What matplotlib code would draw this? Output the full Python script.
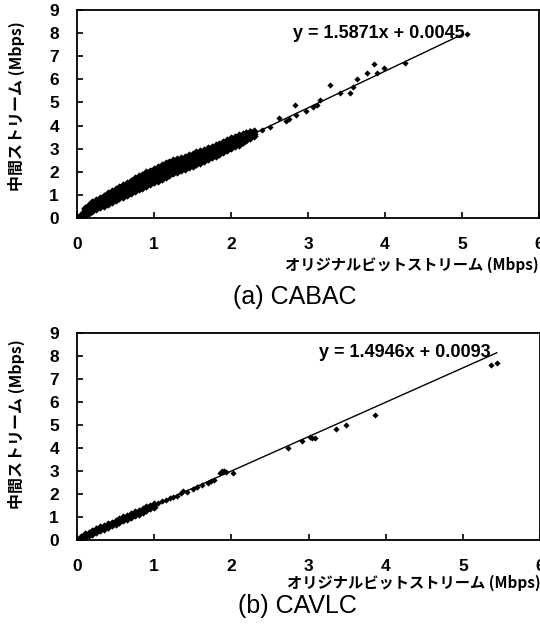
import matplotlib
matplotlib.use("Agg")
import matplotlib.pyplot as plt

plt.rcParams["font.family"] = ["Liberation Sans", "DejaVu Sans"]
JP = ["Noto Sans CJK JP", "DejaVu Sans"]

# (a) CABAC -- dense band, rows of points
cabac_x_lo = [0.05, 0.10, 0.15, 0.20, 0.25, 0.30, 0.35, 0.40, 0.45, 0.50, 0.55, 0.60,
              0.65, 0.70, 0.75, 0.80, 0.85, 0.90, 0.95, 1.00, 1.05, 1.10, 1.15, 1.20,
              1.25, 1.30, 1.35, 1.40, 1.45, 1.50, 1.55, 1.60, 1.65, 1.70, 1.75, 1.80,
              1.85, 1.90, 1.95, 2.00, 2.05, 2.10, 2.15, 2.20, 2.25, 2.30]
cabac_y_lo = [0.08, 0.15, 0.23, 0.31, 0.39, 0.46, 0.54, 0.62, 0.70, 0.77, 0.85, 0.93,
              1.00, 1.08, 1.16, 1.24, 1.31, 1.39, 1.47, 1.55, 1.62, 1.70, 1.78, 1.85,
              1.93, 2.00, 2.06, 2.12, 2.19, 2.26, 2.33, 2.40, 2.47, 2.55, 2.62, 2.70,
              2.78, 2.86, 2.94, 3.02, 3.10, 3.18, 3.27, 3.36, 3.44, 3.53]
cabac_y_lm = [0.11, 0.20, 0.29, 0.38, 0.47, 0.55, 0.63, 0.72, 0.80, 0.88, 0.96, 1.04,
              1.12, 1.20, 1.28, 1.36, 1.44, 1.52, 1.60, 1.68, 1.76, 1.84, 1.92, 1.99,
              2.07, 2.15, 2.22, 2.28, 2.35, 2.42, 2.50, 2.57, 2.64, 2.72, 2.80, 2.87,
              2.95, 3.03, 3.11, 3.19, 3.27, 3.34, 3.42, 3.50, 3.58, 3.65]
cabac_y_mid = [0.15, 0.26, 0.36, 0.46, 0.55, 0.64, 0.72, 0.82, 0.90, 0.99, 1.08, 1.16,
               1.24, 1.33, 1.41, 1.49, 1.57, 1.66, 1.74, 1.82, 1.90, 1.98, 2.06, 2.13,
               2.22, 2.30, 2.37, 2.44, 2.52, 2.59, 2.67, 2.74, 2.82, 2.90, 2.97, 3.05,
               3.12, 3.20, 3.28, 3.36, 3.43, 3.50, 3.58, 3.65, 3.72, 3.78]
cabac_x_hi = [0.10, 0.15, 0.20, 0.25, 0.30, 0.35, 0.40, 0.45, 0.50, 0.55, 0.60, 0.65,
              0.70, 0.75, 0.80, 0.85, 0.90, 0.95, 1.00, 1.05, 1.10, 1.15, 1.20, 1.25,
              1.30, 1.35, 1.40, 1.45, 1.50, 1.55, 1.60, 1.65, 1.70, 1.75, 1.80, 1.85,
              1.90, 1.95, 2.00, 2.05, 2.10, 2.15, 2.20, 2.25]
cabac_y_mh = [0.34, 0.45, 0.57, 0.66, 0.76, 0.84, 0.94, 1.03, 1.12, 1.21, 1.30, 1.38,
              1.47, 1.56, 1.64, 1.72, 1.81, 1.89, 1.97, 2.05, 2.13, 2.21, 2.28, 2.36,
              2.42, 2.48, 2.55, 2.62, 2.68, 2.75, 2.82, 2.89, 2.96, 3.03, 3.10, 3.16,
              3.25, 3.32, 3.42, 3.47, 3.54, 3.60, 3.66, 3.70]
cabac_y_hi = [0.42, 0.55, 0.68, 0.78, 0.88, 0.97, 1.07, 1.16, 1.26, 1.35, 1.44, 1.53,
              1.62, 1.71, 1.80, 1.88, 1.97, 2.05, 2.13, 2.20, 2.28, 2.36, 2.42, 2.50,
              2.55, 2.60, 2.66, 2.72, 2.78, 2.84, 2.90, 2.96, 3.03, 3.09, 3.16, 3.21,
              3.30, 3.36, 3.48, 3.52, 3.58, 3.63, 3.68, 3.72]
# scattered points of (a)
cabac_x_sp = [0.32, 0.93, 2.40, 2.50, 2.62, 2.71, 2.75, 2.83, 2.85, 2.97, 3.06, 3.12,
              3.16, 3.29, 3.42, 3.55, 3.59, 3.63, 3.77, 3.86, 3.89, 3.99, 4.26, 5.07]
cabac_y_sp = [0.90, 2.00, 3.82, 3.95, 4.31, 4.21, 4.27, 4.88, 4.46, 4.65, 4.82, 4.89,
              5.11, 5.76, 5.40, 5.40, 5.66, 6.00, 6.26, 6.67, 6.29, 6.48, 6.70, 7.97]
cabac_fit = (1.5871, 0.0045)
cabac_fit_x = [0.0, 5.01]

# (b) CAVLC
cavlc_x_d = [0.05, 0.10, 0.15, 0.20, 0.25, 0.30, 0.35, 0.40, 0.45, 0.50, 0.55, 0.60,
             0.65, 0.70, 0.75, 0.80, 0.85, 0.90, 0.95, 1.00]
cavlc_y_d1 = [0.15, 0.24, 0.31, 0.39, 0.46, 0.55, 0.61, 0.69, 0.76, 0.84, 0.91, 0.99,
              1.05, 1.14, 1.20, 1.28, 1.35, 1.43, 1.49, 1.57]
cavlc_y_d2 = [0.06, 0.13, 0.20, 0.27, 0.35, 0.42, 0.50, 0.57, 0.64, 0.71, 0.79, 0.86,
              0.93, 1.00, 1.08, 1.15, 1.22, 1.30, 1.37, 1.45]
cavlc_x_sp = [1.05, 1.10, 1.15, 1.20, 1.25, 1.30, 1.35, 1.38, 1.42, 1.50, 1.55, 1.62,
              1.70, 1.74, 1.78, 1.85, 1.88, 1.90, 1.93, 2.02,
              2.74, 2.91, 3.02, 3.05, 3.08, 3.36, 3.49, 3.86, 5.36, 5.44]
cavlc_y_sp = [1.62, 1.68, 1.73, 1.82, 1.88, 1.92, 2.05, 2.12, 2.08, 2.22, 2.30, 2.38,
              2.50, 2.55, 2.62, 2.90, 2.98, 3.02, 2.95, 2.92,
              3.99, 4.30, 4.47, 4.42, 4.45, 4.81, 5.00, 5.43, 7.61, 7.71]
cavlc_fit = (1.4946, 0.0093)
cavlc_fit_x = [0.0, 5.44]

x_ticks = [0, 1, 2, 3, 4, 5, 6]
y_ticks = [0, 1, 2, 3, 4, 5, 6, 7, 8, 9]

X_LABEL = "オリジナルビットストリーム (Mbps)"
Y_LABEL = "中間ストリーム (Mbps)"

W, H = 540, 627


def style_axes(ax, ylab_y):
    ax.set_xlim(0, 6)
    ax.set_ylim(0, 9)
    ax.set_xticks(x_ticks)
    ax.set_yticks(y_ticks)
    ax.tick_params(direction="in", length=4, width=1.2, top=False, right=False,
                   labelsize=12.5)
    ax.tick_params(axis="x", pad=14)
    ax.tick_params(axis="y", pad=13)
    for lab in ax.get_xticklabels() + ax.get_yticklabels():
        lab.set_fontweight("bold")
    for sp in ax.spines.values():
        sp.set_linewidth(1.3)
    ax.set_ylabel(Y_LABEL, family=JP, fontweight="bold", fontsize=11.5)
    ax.yaxis.set_label_coords(-0.112, ylab_y)


def draw(ax, dense, sparse, fit, fit_x, eq_pos):
    for xs, ys in dense:
        ax.scatter(xs, ys, marker="D", s=18, color="black", linewidths=0, zorder=3)
    for xs, ys in sparse:
        ax.scatter(xs, ys, marker="D", s=10, color="black", linewidths=0, zorder=3)
    k, b = fit
    ax.plot(fit_x, [k * v + b for v in fit_x], color="black", lw=1.0, zorder=2)
    ax.text(eq_pos[0], eq_pos[1], f"y = {k:.4f}x + {b:.4f}", fontsize=13,
            fontweight="bold", va="center", ha="left")


fig = plt.figure(figsize=(W / 100, H / 100), dpi=100)

ax1 = fig.add_axes([77 / W, 1 - 218 / H, 462 / W, 208 / H])
draw(ax1,
     [(cabac_x_lo, cabac_y_lo), (cabac_x_lo, cabac_y_lm), (cabac_x_lo, cabac_y_mid),
      (cabac_x_hi, cabac_y_mh), (cabac_x_hi, cabac_y_hi)],
     [(cabac_x_sp, cabac_y_sp)],
     cabac_fit, cabac_fit_x, (2.80, 8.0))
style_axes(ax1, 0.54)

ax2 = fig.add_axes([77 / W, 1 - 540 / H, 463 / W, 207 / H])
draw(ax2,
     [(cavlc_x_d, cavlc_y_d1), (cavlc_x_d, cavlc_y_d2)],
     [(cavlc_x_sp, cavlc_y_sp)],
     cavlc_fit, cavlc_fit_x, (3.13, 8.15))
style_axes(ax2, 0.56)

fig.text(412 / W, 1 - 265 / H, X_LABEL, family=JP, fontweight="bold", fontsize=11,
         ha="center", va="center")
fig.text(414 / W, 1 - 583 / H, X_LABEL, family=JP, fontweight="bold", fontsize=11,
         ha="center", va="center")
fig.text(295 / W, 1 - 297 / H, "(a) CABAC", fontsize=18, ha="center", va="center")
fig.text(297 / W, 1 - 606 / H, "(b) CAVLC", fontsize=18, ha="center", va="center")

fig.savefig("out.png", dpi=100)
